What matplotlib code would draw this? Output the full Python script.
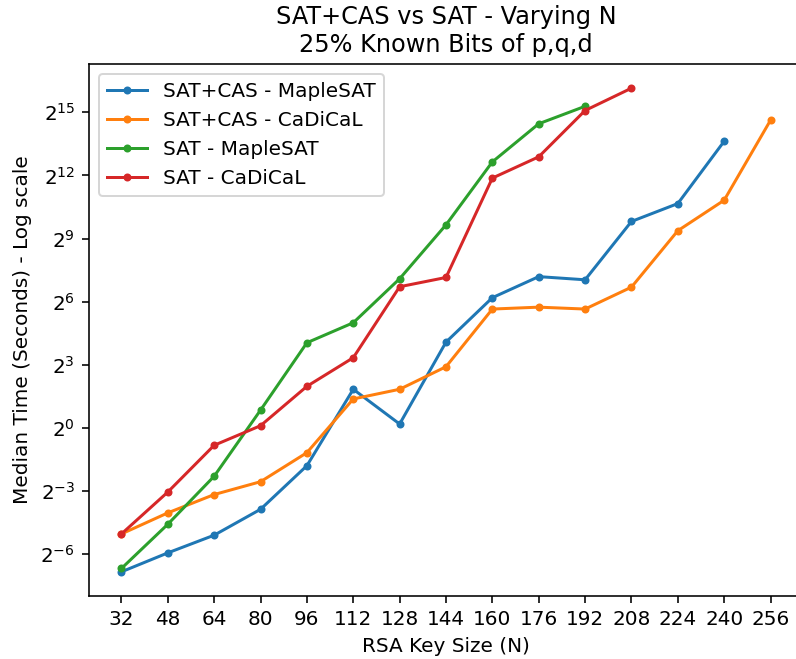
import numpy as np
import matplotlib
matplotlib.use("Agg")
import matplotlib.pyplot as plt
from matplotlib.ticker import LogFormatterMathtext

# RSA key sizes
key_sizes = [32, 48, 64, 80, 96, 112, 128, 144, 160, 176, 192, 208, 224, 240, 256]

# Median solve times, stored as log2(seconds)
cas_maple = [-6.83, -5.93, -5.09, -3.86, -1.79, 1.84, 0.19, 4.08, 6.19, 7.19, 7.04, 9.81, 10.66, 13.62]
cas_cadical = [-5.03, -4.03, -3.16, -2.55, -1.17, 1.38, 1.84, 2.91, 5.65, 5.74, 5.65, 6.69, 9.37, 10.82, 14.62]
sat_maple = [-6.67, -4.57, -2.29, 0.85, 4.05, 5.0, 7.09, 9.65, 12.64, 14.45, 15.28]
sat_cadical = [-5.03, -3.04, -0.82, 0.11, 1.98, 3.34, 6.71, 7.15, 11.87, 12.88, 15.08, 16.14]

series = [
    ("SAT+CAS - MapleSAT", cas_maple),
    ("SAT+CAS - CaDiCaL", cas_cadical),
    ("SAT - MapleSAT", sat_maple),
    ("SAT - CaDiCaL", sat_cadical),
]

dpi = 144
fig = plt.figure(figsize=(796 / dpi, 659 / dpi), dpi=dpi)
ax = fig.add_axes([89 / 796, 63 / 659, 714 / 796, 532 / 659])

for label, exps in series:
    times = 2.0 ** np.array(exps)
    ax.plot(key_sizes[:len(times)], times, marker='.', label=label)

ax.set_yscale('log', base=2)
ax.set_yticks([2.0 ** k for k in range(-6, 16, 3)])
ax.yaxis.set_major_formatter(LogFormatterMathtext(base=2))
ax.yaxis.set_minor_locator(plt.NullLocator())
ax.set_xticks(key_sizes)

ax.set_title("SAT+CAS vs SAT - Varying N\n25% Known Bits of p,q,d")
ax.set_xlabel("RSA Key Size (N)")
ax.set_ylabel("Median Time (Seconds) - Log scale")
ax.legend(loc='upper left')

fig.savefig("out.png", dpi=dpi)
